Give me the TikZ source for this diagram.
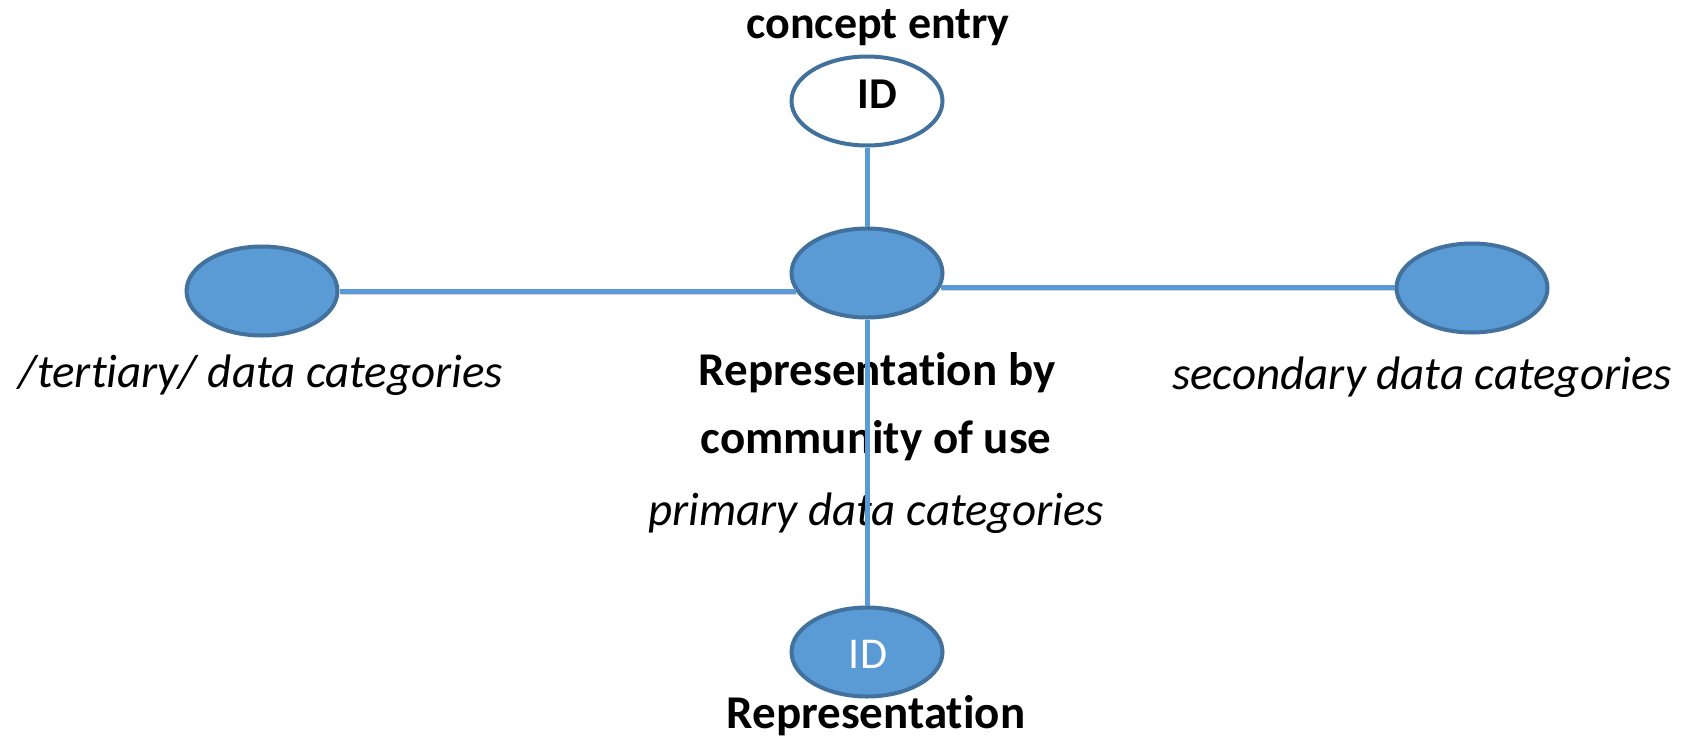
\documentclass[tikz,border=0pt]{standalone}
\usepackage{fontspec}
\setmainfont{Carlito}[Ligatures=NoCommon]
\usetikzlibrary{shapes.geometric}
\definecolor{fillblue}{RGB}{91,155,213}
\definecolor{edgeblue}{RGB}{65,113,156}
\tikzset{
  catnode/.style={draw=edgeblue, line width=4pt, fill=fillblue, ellipse,
    minimum width=151pt, minimum height=89pt, inner sep=0pt},
  link/.style={draw=fillblue, line width=5pt,
    preaction={draw=black, opacity=0.18, transform canvas={shift={(1pt,-2.5pt)}}}},
  boldlbl/.style={anchor=base, inner sep=0pt, font=\fontsize{47}{50}\selectfont\bfseries},
  itlbl/.style={anchor=base, inner sep=0pt, font=\fontsize{47}{50}\selectfont\itshape},
  idlbl/.style={anchor=base, inner sep=0pt, font=\fontsize{44}{50}\selectfont},
}
\begin{document}
\begin{tikzpicture}[x=1pt,y=-1pt]
    \useasboundingbox (0,0) rectangle (1699,740);
    % ellipses
    \node[catnode, fill=white] (entry) at (867,101) {};
    \node[catnode] (comm) at (867,273) {};
    \node[catnode] (tert) at (262,291) {};
    \node[catnode] (sec) at (1472,288) {};
    \node[catnode] (rep) at (867,652) {};
    % texts
    \node[boldlbl, font=\fontsize{46}{50}\selectfont\bfseries] (entrytxt) at (878,38) {concept entry};
    \node[idlbl, font=\fontsize{44}{50}\selectfont\bfseries] (entryid) at (877,108) {ID};
    \node[boldlbl] (commtxt1) at (877,385) {Representation by};
    \node[boldlbl] (commtxt2) at (876,453) {community of use};
    \node[itlbl] (commtxt3) at (876,525) {primary data categories};
    \node[itlbl] (terttxt) at (261,387) {/tertiary/ data categories};
    \node[itlbl] (sectxt) at (1422,389) {secondary data categories};
    \node[idlbl, text=white] (repid) at (868,668) {ID};
    \node[boldlbl] (reptxt) at (876,728) {Representation};
    % links
    \path[link] (entry.south) -- (comm.north);
    \path[link] (comm.195) -- (comm.195 -| tert.east);
    \path[link] (comm.349) -- (comm.349 -| sec.west);
    \path[link] (comm.south) -- (rep.north);
\end{tikzpicture}
\end{document}
